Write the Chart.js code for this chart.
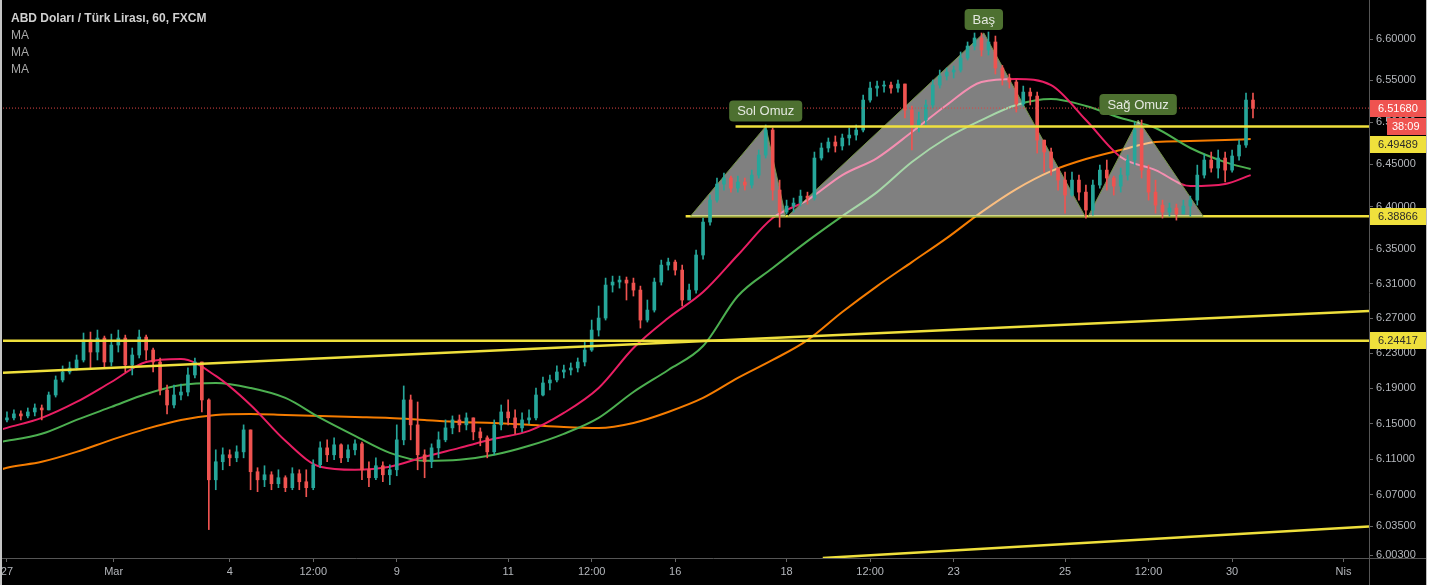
<!DOCTYPE html>
<html><head><meta charset="utf-8">
<script src="https://cdn.jsdelivr.net/npm/chart.js@4.4.1/dist/chart.umd.min.js"></script>
<style>
html,body{margin:0;padding:0;background:#fff;}
#wrap{position:absolute;left:0;top:0;width:1427px;height:585px;background:#000;}
</style></head><body>
<div id="wrap"><canvas id="c" width="1427" height="585"></canvas></div>
<script>
// ---- DATA ----
const candleStepHours = 3; // each candle spans 3 trading hours
const opens = [
6.1541,6.1564,6.1609,6.1586,6.1631,6.1676,6.1654,6.1823,6.1994,6.2085,
6.2131,6.2222,6.2450,6.2313,6.2473,6.2199,6.2393,6.2473,6.2165,6.2279,
6.2484,6.2336,6.2199,6.1880,6.1710,6.1823,6.1857,6.2051,6.2199,6.1767,
6.0868,6.1070,6.1148,6.1114,6.1181,6.1428,6.0958,6.0868,6.0924,6.0824,
6.0891,6.0780,6.0936,6.0846,6.0780,6.1036,6.1226,6.1148,6.1260,6.1114,
6.1204,6.1271,6.0980,6.0891,6.1025,6.0924,6.0980,6.1316,6.1767,6.1485,
6.1148,6.1070,6.1226,6.1316,6.1451,6.1541,6.1485,6.1564,6.1406,6.1339,
6.1181,6.1485,6.1631,6.1564,6.1451,6.1541,6.1564,6.1823,6.1960,6.1994,
6.2085,6.2108,6.2131,6.2199,6.2336,6.2565,6.2703,6.3084,6.3119,6.3142,
6.3107,6.3026,6.2680,6.2795,6.3119,6.3316,6.3351,6.3258,6.2911,6.3026,
6.3433,6.3818,6.4076,6.4265,6.4336,6.4218,6.4289,6.4253,6.4371,6.4608,
6.4906,6.4194,6.3935,6.4006,6.4041,6.4123,6.4100,6.4573,6.4692,6.4763,
6.4716,6.4811,6.4846,6.4906,6.5264,6.5408,6.5432,6.5444,6.5408,6.5457,
6.5145,6.4966,6.5025,6.5205,6.5444,6.5553,6.5601,6.5625,6.5770,6.5915,
6.6012,6.5867,6.5964,6.5649,6.5529,6.5481,6.5216,6.5360,6.5312,6.4786,
6.4644,6.4454,6.4312,6.4135,6.4312,6.4170,6.3959,6.4253,6.4430,6.4336,
6.4241,6.4371,6.4549,6.4906,6.4430,6.4170,6.4017,6.3935,6.3982,6.3912,
6.4006,6.4076,6.4371,6.4549,6.4454,6.4573,6.4430,6.4597,6.4727,6.5264];
const highs = [
6.1631,6.1654,6.1643,6.1676,6.1722,6.1710,6.1857,6.2040,6.2154,6.2199,
6.2279,6.2531,6.2542,6.2565,6.2496,6.2519,6.2565,6.2507,6.2359,6.2565,
6.2507,6.2359,6.2245,6.1937,6.1937,6.1948,6.2131,6.2245,6.2199,6.1780,
6.1204,6.1226,6.1204,6.1249,6.1485,6.1428,6.1003,6.1025,6.0958,6.0980,
6.0913,6.1003,6.0980,6.0980,6.1092,6.1294,6.1316,6.1339,6.1271,6.1260,
6.1316,6.1290,6.1070,6.1114,6.1070,6.1036,6.1485,6.1926,6.1823,6.1744,
6.1204,6.1271,6.1406,6.1541,6.1586,6.1597,6.1620,6.1564,6.1451,6.1361,
6.1541,6.1710,6.1767,6.1654,6.1620,6.1654,6.1903,6.2028,6.2051,6.2154,
6.2165,6.2188,6.2245,6.2427,6.2680,6.2842,6.3165,6.3188,6.3188,6.3177,
6.3165,6.3072,6.2911,6.3165,6.3374,6.3397,6.3374,6.3316,6.3096,6.3491,
6.3865,6.4135,6.4336,6.4395,6.4359,6.4359,6.4336,6.4430,6.4668,6.4966,
6.4930,6.4312,6.4076,6.4100,6.4194,6.4170,6.4644,6.4751,6.4811,6.4835,
6.4858,6.4930,6.4966,6.5324,6.5481,6.5493,6.5493,6.5481,6.5505,6.5457,
6.5193,6.5121,6.5264,6.5505,6.5625,6.5649,6.5673,6.5843,6.5964,6.6073,
6.6073,6.6085,6.6036,6.5680,6.5577,6.5505,6.5432,6.5408,6.5360,6.4786,
6.4692,6.4454,6.4406,6.4406,6.4371,6.4253,6.4312,6.4489,6.4549,6.4359,
6.4454,6.4608,6.5001,6.5025,6.4489,6.4312,6.4076,6.4041,6.4029,6.4076,
6.4123,6.4489,6.4620,6.4644,6.4668,6.4644,6.4668,6.4786,6.5348,6.5348];
const lows = [
6.1518,6.1541,6.1541,6.1564,6.1586,6.1541,6.1654,6.1800,6.1971,6.2062,
6.2108,6.2199,6.2131,6.2222,6.2131,6.2154,6.2313,6.2085,6.2051,6.2245,
6.2222,6.2085,6.1823,6.1609,6.1676,6.1767,6.1812,6.2017,6.1631,6.0314,
6.0757,6.0980,6.1025,6.1070,6.1114,6.0757,6.0735,6.0791,6.0757,6.0780,
6.0735,6.0757,6.0757,6.0679,6.0757,6.1003,6.1070,6.1092,6.1059,6.1070,
6.1148,6.0868,6.0791,6.0868,6.0846,6.0813,6.0913,6.1260,6.1316,6.0980,
6.0891,6.1003,6.1114,6.1294,6.1384,6.1406,6.1428,6.1316,6.1249,6.1114,
6.1148,6.1428,6.1485,6.1384,6.1406,6.1496,6.1541,6.1812,6.1880,6.1971,
6.2017,6.2051,6.2085,6.2154,6.2320,6.2496,6.2680,6.3003,6.3049,6.2911,
6.2957,6.2588,6.2657,6.2772,6.3084,6.3258,6.3200,6.2842,6.2911,6.2991,
6.3386,6.3783,6.4052,6.4194,6.4170,6.4170,6.4194,6.4218,6.4336,6.4573,
6.4076,6.3759,6.3912,6.3935,6.4006,6.4029,6.4076,6.4549,6.4644,6.4644,
6.4668,6.4727,6.4786,6.4882,6.5240,6.5312,6.5360,6.5348,6.5360,6.5049,
6.4668,6.4882,6.4966,6.5169,6.5408,6.5505,6.5529,6.5601,6.5746,6.5867,
6.5794,6.5806,6.5577,6.5444,6.5408,6.5121,6.5193,6.5205,6.4632,6.4406,
6.4371,6.4194,6.3923,6.4123,6.4076,6.3865,6.3900,6.4218,6.4194,6.4135,
6.4170,6.4312,6.4489,6.4336,6.4076,6.3923,6.3865,6.3888,6.3841,6.3912,
6.3888,6.4017,6.4336,6.4406,6.4336,6.4289,6.4406,6.4549,6.4700,6.5049];
const closes = [
6.1564,6.1609,6.1586,6.1631,6.1676,6.1654,6.1823,6.1994,6.2085,6.2131,
6.2222,6.2450,6.2313,6.2473,6.2199,6.2393,6.2473,6.2165,6.2279,6.2484,
6.2336,6.2199,6.1880,6.1710,6.1823,6.1857,6.2051,6.2199,6.1767,6.0868,
6.1070,6.1148,6.1114,6.1181,6.1428,6.0958,6.0868,6.0924,6.0824,6.0891,
6.0780,6.0936,6.0846,6.0780,6.1036,6.1226,6.1148,6.1260,6.1114,6.1204,
6.1271,6.0980,6.0891,6.1025,6.0924,6.0980,6.1316,6.1767,6.1485,6.1148,
6.1070,6.1226,6.1316,6.1451,6.1541,6.1485,6.1564,6.1406,6.1339,6.1181,
6.1485,6.1631,6.1564,6.1451,6.1541,6.1564,6.1823,6.1960,6.1994,6.2085,
6.2108,6.2131,6.2199,6.2336,6.2565,6.2703,6.3084,6.3119,6.3142,6.3107,
6.3026,6.2680,6.2795,6.3119,6.3316,6.3351,6.3258,6.2911,6.3026,6.3433,
6.3818,6.4076,6.4265,6.4336,6.4218,6.4289,6.4253,6.4371,6.4608,6.4906,
6.4194,6.3935,6.4006,6.4041,6.4123,6.4100,6.4573,6.4692,6.4763,6.4716,
6.4811,6.4846,6.4906,6.5264,6.5408,6.5432,6.5444,6.5408,6.5457,6.5145,
6.4966,6.5025,6.5205,6.5444,6.5553,6.5601,6.5625,6.5770,6.5915,6.6012,
6.5867,6.5964,6.5649,6.5529,6.5481,6.5216,6.5360,6.5312,6.4786,6.4644,
6.4454,6.4312,6.4135,6.4312,6.4170,6.3959,6.4253,6.4430,6.4336,6.4241,
6.4371,6.4549,6.4906,6.4430,6.4170,6.4017,6.3935,6.3982,6.3912,6.4006,
6.4076,6.4371,6.4549,6.4454,6.4573,6.4430,6.4597,6.4727,6.5264,6.5168];

// moving averages sampled at trading-hour positions
const maHours = [-3,0,15,30,45,60,75,90,105,120,135,150,165,180,195,210,225,240,255,270,285,300,315,330,345,360,375,390,405,420,435,450,465,480,495,510,525,536];
const maFast = [6.1428,6.1451,6.1564,6.1744,6.1971,6.2199,6.2233,6.2040,6.1710,6.1305,
6.1014,6.0980,6.1014,6.1126,6.1226,6.1328,6.1417,6.1620,6.1903,6.2359,
6.2703,6.3003,6.3433,6.3865,6.4076,6.4371,6.4573,6.4882,6.5205,6.5481,
6.5517,6.5444,6.5025,6.4585,6.4430,6.4241,6.4265,6.4371];
const maMid = [6.1294,6.1305,6.1384,6.1541,6.1688,6.1835,6.1937,6.1960,6.1903,6.1790,
6.1564,6.1361,6.1170,6.1081,6.1092,6.1148,6.1249,6.1384,6.1564,6.1857,
6.2108,6.2382,6.2957,6.3281,6.3595,6.3888,6.4170,6.4525,6.4811,6.5025,
6.5205,6.5276,6.5193,6.5049,6.4930,6.4692,6.4525,6.4442];
const maSlow = [6.0980,6.1003,6.1070,6.1181,6.1316,6.1440,6.1541,6.1597,6.1608,6.1597,
6.1586,6.1575,6.1564,6.1541,6.1518,6.1507,6.1485,6.1462,6.1451,6.1507,
6.1631,6.1790,6.2017,6.2222,6.2450,6.2772,6.3072,6.3351,6.3630,6.3935,
6.4206,6.4418,6.4561,6.4668,6.4763,6.4775,6.4786,6.4798];

// axes
const xMin = -1.7, xMax = 587;
const xTickHours = [0,46,96,132,168,216,252,288,336,372,408,456,492,528,576];
const xTickLabels = ['27','Mar','4','12:00','9','11','12:00','16','18','12:00','23','25','12:00','30','Nis'];
const yMin = 6.0, yMax = 6.645;
const yTickValues = [6.003,6.035,6.07,6.11,6.15,6.19,6.23,6.27,6.31,6.35,6.40,6.45,6.50,6.55,6.60];

// levels & drawings
const lastPrice = 6.51680;
const countdown = '38:09';
const levelUpper = 6.49489, upperStartHour = 314;
const levelNeck = 6.38866, neckStartHour = 292.5;
const levelSupport = 6.24417;
const risingTopLine = [[-3, 6.2074], [587, 6.2784]];
const risingLowLine = [[351.6, 6.0000], [587, 6.0347]];
const patternLeft = [[294.6, 6.38866], [327, 6.4949], [335.6, 6.38866]];
const patternHead = [[336.5, 6.38866], [421, 6.6073], [464.6, 6.38866]];
const patternRight = [[466, 6.38866], [487.5, 6.5025], [515.5, 6.38866]];
const patternNames = ['Sol Omuz', 'Baş', 'Sağ Omuz'];
const titleText = 'ABD Doları / Türk Lirası, 60, FXCM';
const studyNames = ['MA', 'MA', 'MA'];

// ---- CHART ----
const TEAL = '#26a69a', RED = '#ef5350', YELLOW = '#efe03c';
const candleX = closes.map((_, i) => i * candleStepHours);
const candleColors = closes.map((c, i) => c >= opens[i] ? TEAL : RED);
const pts = (xs, ys) => xs.map((x, i) => ({x: x, y: ys[i]}));
const seg = arr => arr.map(p => ({x: p[0], y: p[1]}));
const lineDs = (label, data, color, width, order, extra) => Object.assign({
  type: 'line', label, data, borderColor: color, borderWidth: width, pointRadius: 0,
  fill: false, clip: 0, order
}, extra || {});

const datasets = [
  lineDs('maSlow', pts(maHours, maSlow), '#f57c00', 2, 10, {cubicInterpolationMode: 'monotone'}),
  lineDs('maMid', pts(maHours, maMid), '#4caf50', 2, 9, {cubicInterpolationMode: 'monotone'}),
  lineDs('maFast', pts(maHours, maFast), '#e91e63', 2, 8, {cubicInterpolationMode: 'monotone'}),
  lineDs('neckline', [{x: neckStartHour, y: levelNeck}, {x: xMax, y: levelNeck}], YELLOW, 2.5, 7),
  {type: 'bar', label: 'wicks', data: candleX.map((x, i) => ({x: x, y: [lows[i], highs[i]]})),
   backgroundColor: candleColors, barThickness: 1, grouped: false, order: 6},
  {type: 'bar', label: 'bodies', data: candleX.map((x, i) => ({x: x, y: [opens[i], closes[i]]})),
   backgroundColor: candleColors, barThickness: 3, grouped: false, minBarLength: 1, order: 5},
  lineDs('upper', [{x: upperStartHour, y: levelUpper}, {x: xMax, y: levelUpper}], YELLOW, 2.5, 4),
  lineDs('support', [{x: xMin, y: levelSupport}, {x: xMax, y: levelSupport}], YELLOW, 2.5, 4),
  lineDs('risingTop', seg(risingTopLine), YELLOW, 2.5, 4),
  lineDs('risingLow', seg(risingLowLine), YELLOW, 2.5, 4),
  lineDs('last', [{x: xMin, y: lastPrice}, {x: xMax, y: lastPrice}], 'rgba(220,70,70,1)', 1, 3, {borderDash: [1, 2]})
];

function drawPatterns(c) {
  const ctx = c.ctx, xs = c.scales.x, ys = c.scales.y, a = c.chartArea;
  ctx.save();
  ctx.beginPath(); ctx.rect(a.left, a.top, a.right - a.left, a.bottom - a.top); ctx.clip();
  [patternLeft, patternHead, patternRight].forEach(tri => {
    ctx.beginPath();
    tri.forEach((p, i) => {
      const X = xs.getPixelForValue(p[0]), Y = ys.getPixelForValue(p[1]);
      if (i) ctx.lineTo(X, Y); else ctx.moveTo(X, Y);
    });
    ctx.closePath();
    ctx.globalCompositeOperation = 'screen';
    ctx.fillStyle = 'rgb(128,128,128)';
    ctx.fill();
    ctx.globalCompositeOperation = 'source-over';
    ctx.strokeStyle = 'rgba(118,150,72,0.95)';
    ctx.lineWidth = 1;
    ctx.stroke();
  });
  ctx.restore();
}

function roundRect(ctx, x, y, w, h, r) {
  ctx.beginPath();
  ctx.moveTo(x + r, y); ctx.lineTo(x + w - r, y); ctx.quadraticCurveTo(x + w, y, x + w, y + r);
  ctx.lineTo(x + w, y + h - r); ctx.quadraticCurveTo(x + w, y + h, x + w - r, y + h);
  ctx.lineTo(x + r, y + h); ctx.quadraticCurveTo(x, y + h, x, y + h - r);
  ctx.lineTo(x, y + r); ctx.quadraticCurveTo(x, y, x + r, y); ctx.closePath();
}

const bgPlugin = {id: 'bg', beforeDraw(c) {
  const ctx = c.ctx; ctx.save(); ctx.fillStyle = '#000'; ctx.fillRect(0, 0, c.width, c.height); ctx.restore();
}};
const patternPlugin = {id: 'patterns', afterDatasetDraw(c, args) {
  if (c.data.datasets[args.index].label === 'neckline') drawPatterns(c);
}};
const overlayPlugin = {id: 'overlay', afterDraw(c) {
  const ctx = c.ctx, xs = c.scales.x, ys = c.scales.y, a = c.chartArea;
  ctx.save();
  // axis frame
  ctx.strokeStyle = '#555'; ctx.lineWidth = 1;
  ctx.beginPath(); ctx.moveTo(Math.round(a.right) + 0.5, 0); ctx.lineTo(Math.round(a.right) + 0.5, c.height); ctx.stroke();
  ctx.beginPath(); ctx.moveTo(0, Math.round(a.bottom) + 0.5); ctx.lineTo(c.width, Math.round(a.bottom) + 0.5); ctx.stroke();
  ctx.fillStyle = '#c4c4c4'; ctx.fillRect(0, 0, 2, c.height);
  ctx.fillStyle = '#bbb'; ctx.fillRect(c.width - 1, 0, 1, c.height);

  // pattern callouts
  ctx.font = '13px "Liberation Sans", Arial, sans-serif';
  ctx.textAlign = 'center'; ctx.textBaseline = 'middle';
  [patternLeft, patternHead, patternRight].forEach((tri, k) => {
    const X = xs.getPixelForValue(tri[1][0]), Y = ys.getPixelForValue(tri[1][1]);
    const w = ctx.measureText(patternNames[k]).width + 16, h = 21;
    const top = Math.max(9, Y - 5 - h);
    ctx.fillStyle = '#4d7030';
    roundRect(ctx, X - w / 2, top, w, h, 4); ctx.fill();
    ctx.fillStyle = '#e4e8e0';
    ctx.fillText(patternNames[k], X, top + h / 2 + 0.5);
  });

  // legend
  ctx.textAlign = 'left'; ctx.textBaseline = 'middle';
  ctx.font = 'bold 12px "Liberation Sans", Arial, sans-serif';
  ctx.fillStyle = '#d0d0d0';
  ctx.fillText(titleText, 11, 19);
  ctx.font = '12px "Liberation Sans", Arial, sans-serif';
  ctx.fillStyle = '#a8a8a8';
  studyNames.forEach((s, i) => ctx.fillText(s, 11, 36 + i * 17));

  // price labels on the axis
  const items = [
    {v: lastPrice, t: lastPrice.toFixed(5), bg: RED, fg: '#fff'},
    {v: lastPrice, t: countdown, bg: RED, fg: '#fff', cd: true},
    {v: levelUpper, t: levelUpper.toFixed(5), bg: YELLOW, fg: '#2a2a2a'},
    {v: levelNeck, t: levelNeck.toFixed(5), bg: YELLOW, fg: '#2a2a2a'},
    {v: levelSupport, t: levelSupport.toFixed(5), bg: YELLOW, fg: '#2a2a2a'}
  ];
  let prev = -100;
  ctx.font = '11px "Liberation Sans", Arial, sans-serif';
  items.forEach(it => {
    let y = ys.getPixelForValue(it.v);
    if (y < prev + 18) y = prev + 18;
    prev = y;
    const left = it.cd ? a.right + 18 : a.right + 1, right = c.width - 1;
    ctx.fillStyle = it.bg;
    ctx.fillRect(left, Math.round(y - 8.5), right - left, 17);
    ctx.fillStyle = it.fg;
    ctx.fillText(it.t, left + (it.cd ? 5 : 8), y + 0.5);
  });
  ctx.restore();
}};

new Chart(document.getElementById('c'), {
  type: 'bar',
  data: {datasets},
  options: {
    responsive: false, animation: false, events: [],
    layout: {padding: {left: 3, top: 2, right: 0, bottom: 0}},
    plugins: {legend: {display: false}, tooltip: {enabled: false}},
    scales: {
      x: {
        type: 'linear', min: xMin, max: xMax, offset: false,
        grid: {display: true, offset: false, drawOnChartArea: false, drawTicks: true, tickLength: 4, color: '#666'},
        border: {display: false},
        ticks: {color: '#b4b7bc', font: {size: 11, family: '"Liberation Sans Narrow", "Liberation Sans", Arial, sans-serif'},
          padding: 3, maxRotation: 0, autoSkip: false,
          callback: v => { const k = xTickHours.indexOf(v); return k >= 0 ? xTickLabels[k] : ''; }},
        afterBuildTicks: s => { s.ticks = xTickHours.map(v => ({value: v})); },
        afterFit: s => { s.height = 27; s.paddingLeft = 0; s.paddingRight = 0; }
      },
      y: {
        type: 'logarithmic', position: 'right', min: yMin, max: yMax,
        grid: {display: true, drawOnChartArea: false, drawTicks: true, tickLength: 4, color: '#666'},
        border: {display: false},
        ticks: {color: '#b4b7bc', font: {size: 11, family: '"Liberation Sans", Arial, sans-serif'},
          padding: 3, autoSkip: false, callback: v => Number(v).toFixed(5)},
        afterBuildTicks: s => { s.ticks = yTickValues.map(v => ({value: v})); },
        afterFit: s => { s.width = 58; s.paddingTop = 0; s.paddingBottom = 0; }
      }
    }
  },
  plugins: [bgPlugin, patternPlugin, overlayPlugin]
});
</script>
</body></html>
